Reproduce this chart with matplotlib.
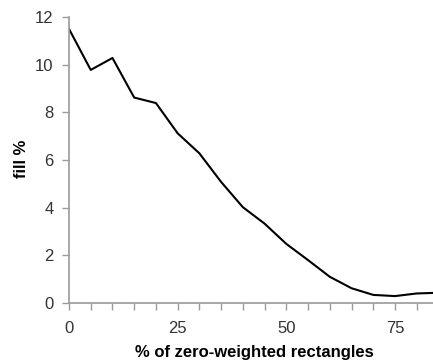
import matplotlib
matplotlib.use("Agg")
import matplotlib.pyplot as plt
from matplotlib.ticker import MultipleLocator, FuncFormatter

# Share of zero-weighted rectangles (%) and resulting fill (%)
zero_weighted_pct = [0, 5, 10, 15, 20, 25, 30, 35, 40, 45, 50, 55, 60, 65, 70, 75, 80, 85]
fill_pct = [11.5, 9.78, 10.28, 8.62, 8.39, 7.12, 6.28, 5.08, 4.02, 3.33, 2.48, 1.8,
            1.1, 0.62, 0.34, 0.29, 0.4, 0.43]

y_ticks = [0, 2, 4, 6, 8, 10, 12]
x_labelled = [0, 25, 50, 75]

plt.rcParams["font.family"] = ["Liberation Sans", "DejaVu Sans"]

W, H = 433, 364
fig = plt.figure(figsize=(W / 100, H / 100), dpi=100)
ax = fig.add_axes([69 / W, 1 - 303 / H, 1 - 69 / W, 286 / H])

ax.plot(zero_weighted_pct, fill_pct, color="black", linewidth=1.5, clip_on=True)

ax.set_xlim(0, 83.75)
ax.set_ylim(0, 12)

axis_grey = "#9a9a9a"
for side in ("top", "right"):
    ax.spines[side].set_visible(False)
for side in ("left", "bottom"):
    ax.spines[side].set_color(axis_grey)
    ax.spines[side].set_linewidth(1.2)

ax.set_yticks(y_ticks)
ax.xaxis.set_major_locator(MultipleLocator(5))
ax.xaxis.set_major_formatter(
    FuncFormatter(lambda v, _: f"{int(round(v))}" if int(round(v)) in x_labelled else ""))

ax.tick_params(axis="both", colors=axis_grey, labelcolor="#333333", labelsize=12,
               direction="out", length=5, width=1.0)
ax.tick_params(axis="x", pad=8)
ax.tick_params(axis="y", pad=6)

# Axis titles
fig.text(254 / W, 1 - 353 / H, "% of zero-weighted rectangles", fontsize=12,
         fontweight="bold", ha="center", va="center")
fig.text(21 / W, 1 - 159 / H, "fill %", fontsize=12, fontweight="bold",
         rotation=90, ha="center", va="center")

fig.savefig("out.png", dpi=100)
